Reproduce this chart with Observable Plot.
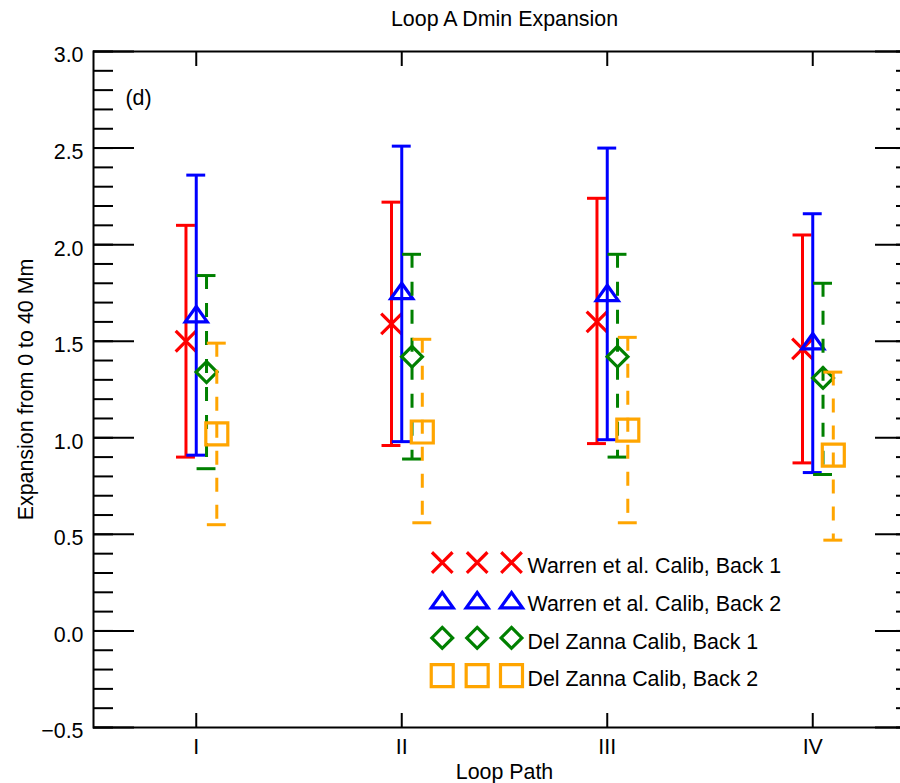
<!DOCTYPE html>
<html>
<head>
<meta charset="utf-8">
<script src="https://cdn.jsdelivr.net/npm/d3@7"></script>
<script src="https://cdn.jsdelivr.net/npm/@observablehq/plot@0.6"></script>
<style>
html, body { margin: 0; padding: 0; background: #fff; overflow: hidden; }
#chart svg { display: block; font-family: "Liberation Sans", Arial, Helvetica, sans-serif; }
</style>
</head>
<body>
<div id="chart"></div>
<script>
// ---- data ----
const categories = ["I", "II", "III", "IV"];
const seriesNames = [
  "Warren et al. Calib, Back 1",
  "Warren et al. Calib, Back 2",
  "Del Zanna Calib, Back 1",
  "Del Zanna Calib, Back 2"
];
const warrenBack1Mid  = [1.50, 1.59, 1.60, 1.46];
const warrenBack1Low  = [0.90, 0.96, 0.97, 0.87];
const warrenBack1High = [2.10, 2.22, 2.24, 2.05];
const warrenBack2Mid  = [1.64, 1.76, 1.75, 1.50];
const warrenBack2Low  = [0.91, 0.98, 0.99, 0.82];
const warrenBack2High = [2.36, 2.51, 2.50, 2.16];
const delZannaBack1Mid  = [1.34, 1.42, 1.42, 1.31];
const delZannaBack1Low  = [0.84, 0.89, 0.90, 0.81];
const delZannaBack1High = [1.84, 1.95, 1.95, 1.80];
const delZannaBack2Mid  = [1.02, 1.03, 1.04, 0.91];
const delZannaBack2Low  = [0.55, 0.56, 0.56, 0.47];
const delZannaBack2High = [1.49, 1.51, 1.52, 1.34];
const yMajorTicks = [-0.5, 0.0, 0.5, 1.0, 1.5, 2.0, 2.5, 3.0];
const titleText = "Loop A Dmin Expansion";
const xLabelText = "Loop Path";
const yLabelText = "Expansion from 0 to 40 Mm";
const panelLabel = "(d)";

// ---- styles / layout ----
const colors = ["#ff0000", "#0000ff", "#008000", "#ffa500"];
const dashes = [null, null, "14,14", "14,13"];
const offsets = [-0.05, 0, 0.05, 0.1];
const capHalf = 0.046;
const FS = 21.4;

const sym = fn => ({draw(ctx, size) { const r = Math.sqrt(size / Math.PI); fn(ctx, r); }});
const symbols = [
  sym((c, r) => { c.moveTo(-r, -r); c.lineTo(r, r); c.moveTo(-r, r); c.lineTo(r, -r); }),
  sym((c, r) => { const h = r * 0.7; c.moveTo(0, -h); c.lineTo(r, h); c.lineTo(-r, h); c.closePath(); }),
  sym((c, r) => { c.moveTo(0, -r); c.lineTo(r, 0); c.lineTo(0, r); c.lineTo(-r, 0); c.closePath(); }),
  sym((c, r) => { c.moveTo(-r, -r); c.lineTo(r, -r); c.lineTo(r, r); c.lineTo(-r, r); c.closePath(); })
];
const symR = [10.3, 11, 10.4, 11];

const seriesData = [
  [warrenBack1Mid, warrenBack1Low, warrenBack1High],
  [warrenBack2Mid, warrenBack2Low, warrenBack2High],
  [delZannaBack1Mid, delZannaBack1Low, delZannaBack1High],
  [delZannaBack2Mid, delZannaBack2Low, delZannaBack2High]
];
const catPos = categories.map((c, i) => i + 1);
const yMinorTicks = d3.ticks(-0.5, 3.0, 35);

// legend layout (data coordinates)
const legendSymX = [2.197, 2.367, 2.534];
const legendTextX = 2.612;
const legendY0 = 0.354, legendStep = 0.195;

const marks = [];
marks.push(Plot.frame({stroke: "black", strokeWidth: 2}));
// ticks (inward)
marks.push(Plot.axisY(yMinorTicks, {anchor: "left", tickSize: -20, fill: "none", strokeWidth: 2, label: null}));
marks.push(Plot.axisY(yMajorTicks, {anchor: "left", tickSize: -41, fill: "none", strokeWidth: 2, label: null}));
marks.push(Plot.axisY(yMinorTicks, {anchor: "right", tickSize: -20, fill: "none", strokeWidth: 2, label: null}));
marks.push(Plot.axisY(yMajorTicks, {anchor: "right", tickSize: -41, fill: "none", strokeWidth: 2, label: null}));
marks.push(Plot.axisY(yMajorTicks, {anchor: "left", tickSize: 0, tickPadding: 10, stroke: "none", fill: "black",
  tickFormat: d3.format(".1f"), fontSize: FS, dy: 4, label: null}));
marks.push(Plot.axisX(catPos, {anchor: "bottom", tickSize: -14, fill: "none", strokeWidth: 2, label: null}));
marks.push(Plot.axisX(catPos, {anchor: "top", tickSize: -14, fill: "none", strokeWidth: 2, label: null}));
marks.push(Plot.axisX(catPos, {anchor: "bottom", tickSize: 0, tickPadding: 11, stroke: "none", fill: "black",
  tickFormat: i => categories[i - 1], fontSize: FS, label: null}));

seriesData.forEach(([mid, low, high], si) => {
  const rows = categories.map((c, ci) => ({x: catPos[ci] + offsets[si], mid: mid[ci], low: low[ci], high: high[ci]}));
  const color = colors[si];
  marks.push(Plot.ruleX(rows, {x: "x", y1: "high", y2: "low", stroke: color, strokeWidth: 3, strokeDasharray: dashes[si]}));
  marks.push(Plot.ruleY(rows, {y: "high", x1: d => d.x - capHalf, x2: d => d.x + capHalf, stroke: color, strokeWidth: 3}));
  marks.push(Plot.ruleY(rows, {y: "low", x1: d => d.x - capHalf, x2: d => d.x + capHalf, stroke: color, strokeWidth: 3}));
  marks.push(Plot.dot(rows, {x: "x", y: "mid", symbol: symbols[si], r: symR[si], stroke: color, strokeWidth: 3.2, fill: "none"}));
  // legend
  const ly = legendY0 - si * legendStep;
  marks.push(Plot.dot(legendSymX.map(x => ({x, y: ly})), {x: "x", y: "y", symbol: symbols[si], r: symR[si], stroke: color, strokeWidth: 3.2, fill: "none"}));
  marks.push(Plot.text([seriesNames[si]], {x: () => legendTextX, y: () => ly, text: d => d, textAnchor: "start", lineAnchor: "middle", dy: 4, fontSize: FS, fill: "black"}));
});

marks.push(Plot.text([panelLabel], {frameAnchor: "top-left", dx: 32, dy: 47, text: d => d, textAnchor: "start", lineAnchor: "middle", fontSize: FS}));
marks.push(Plot.text([titleText], {frameAnchor: "top", dy: -26, text: d => d, lineAnchor: "bottom", fontSize: FS}));
marks.push(Plot.text([xLabelText], {frameAnchor: "bottom", dy: 51, text: d => d, lineAnchor: "bottom", fontSize: FS}));
marks.push(Plot.text([yLabelText], {frameAnchor: "left", dx: -61, rotate: -90, text: d => d, textAnchor: "middle", lineAnchor: "bottom", fontSize: FS}));

const chart = Plot.plot({
  width: 900,
  height: 783,
  marginLeft: 93,
  marginRight: -15,
  marginTop: 51,
  marginBottom: 56,
  style: {fontFamily: '"Liberation Sans", Arial, Helvetica, sans-serif', background: "white", color: "black", overflow: "visible"},
  x: {domain: [0.5, 4.5], label: null, axis: null},
  y: {domain: [-0.5, 3.0], label: null, axis: null},
  marks
});
document.getElementById("chart").appendChild(chart);
</script>
</body>
</html>
